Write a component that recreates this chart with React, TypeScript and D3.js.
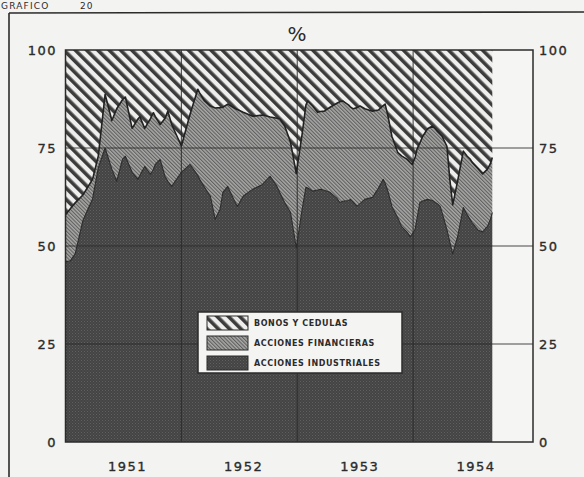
import React from "react";
import * as d3 from "d3";

// months since January 1951 (0 = start of 1951)
const months = [0, 0.5, 1.0, 1.8, 2.8, 3.4, 4.1, 4.8, 5.3, 5.9, 6.2, 6.9, 7.5, 7.7, 8.2, 8.8, 9.1, 9.3, 9.8, 10.3, 10.6, 11.0, 12.0, 12.9, 13.7, 13.9, 14.4, 15.0, 15.5, 16.0, 16.3, 16.8, 17.6, 17.8, 18.4, 19.4, 20.4, 21.2, 21.9, 22.2, 22.7, 23.3, 23.9, 24.5, 24.9, 25.1, 25.6, 26.1, 26.4, 26.8, 27.4, 28.1, 28.4, 28.7, 29.3, 29.5, 29.8, 30.2, 30.5, 31.0, 31.8, 32.4, 32.9, 33.1, 33.4, 33.8, 34.4, 34.8, 35.4, 35.7, 35.9, 36.2, 36.4, 36.7, 37.0, 37.5, 38.0, 38.3, 38.5, 38.8, 39.0, 39.5, 39.8, 40.1, 40.6, 41.2, 41.6, 41.9, 42.1, 42.7, 43.2, 43.7, 44.0, 44.2];

const industriales = [46, 46.2, 48, 56.5, 62, 70, 75, 69.6, 66.5, 72.1, 72.9, 68.8, 67, 68, 70.3, 68.3, 69.5, 70.8, 72.1, 67.8, 66.5, 65.2, 68.8, 70.8, 68, 67, 65, 62.7, 56.8, 59.3, 63.7, 65.2, 61, 60.1, 62.7, 64.5, 65.7, 67.8, 65.2, 63.6, 61.1, 58.6, 49.5, 59.3, 65, 64.8, 64, 64.3, 64.5, 64.2, 63.7, 62.2, 61.1, 61.4, 61.6, 61.9, 61.2, 60.1, 60.8, 61.9, 62.4, 64.7, 67, 66, 63.9, 60.1, 57.3, 55, 53.5, 52.4, 53, 54.2, 57, 61.1, 61.5, 61.9, 61.6, 61.1, 60.8, 60.1, 58.5, 54.2, 51, 48, 52.3, 59.8, 58, 56.8, 56, 54.1, 53.6, 55, 56.8, 58.6];

const financieras = [12, 13.3, 13, 6.5, 5, 3, 13.7, 12.4, 18.5, 15.2, 15.1, 11.2, 15.4, 15, 9.7, 14.2, 14.5, 12.2, 8.9, 14.7, 17.9, 15.8, 6.7, 12.8, 22, 22, 22, 23, 28.4, 26, 21.7, 21, 24, 24.7, 21.4, 18.6, 17.7, 15.1, 17.4, 18.8, 19.5, 17.9, 19, 19.2, 21, 22.2, 21.7, 19.8, 19.8, 20.2, 21.7, 24.2, 25.7, 25.6, 24.4, 23.6, 23.8, 25.2, 24.9, 23.1, 22, 20, 18.8, 20.2, 19.2, 17.9, 16.6, 18, 18.6, 18.9, 17.8, 18.3, 17.7, 15.2, 16.5, 18, 19, 18.8, 18.5, 18.4, 19.5, 21.2, 16, 12.5, 14.2, 14.4, 14.9, 15.4, 15.4, 15.7, 14.8, 14.6, 14.2, 14];

const bonos = [42, 40.5, 39, 37, 33, 27, 11.3, 18, 15, 12.7, 12, 20, 17.6, 17, 20, 17.5, 16, 17, 19, 17.5, 15.6, 19, 24.5, 16.4, 10, 11, 13, 14.3, 14.8, 14.7, 14.6, 13.8, 15, 15.2, 15.9, 16.9, 16.6, 17.1, 17.4, 17.6, 19.4, 23.5, 31.5, 21.5, 14, 13, 14.3, 15.9, 15.7, 15.6, 14.6, 13.6, 13.2, 13, 14, 14.5, 15, 14.7, 14.3, 15, 15.6, 15.3, 14.2, 13.8, 16.9, 22, 26.1, 27, 27.9, 28.7, 29.2, 27.5, 25.3, 23.7, 22, 20.1, 19.4, 20.1, 20.7, 21.5, 22, 24.6, 33, 39.5, 33.5, 25.8, 27.1, 27.8, 28.6, 30.2, 31.6, 30.4, 29, 27.4];

const yTicks = [0, 25, 50, 75, 100];
const gridValues = [25, 50, 75];
const yearLabels = ["1951", "1952", "1953", "1954"];
const yearBoundaries = [12, 24, 36];
const legendLabels = ["BONOS Y CEDULAS", "ACCIONES FINANCIERAS", "ACCIONES INDUSTRIALES"];
const keys = ["ind", "fin", "bon"];

const INK = "#2b2b2b";
const PAPER = "#f3f3f1";

export default function App() {
  const W = 584, H = 477;
  const x = d3.scaleLinear().domain([0, 48]).range([65.5, 529]);
  const y = d3.scaleLinear().domain([0, 100]).range([442, 50]);
  const frameRight = 533;

  const table = months.map((m, i) => ({ m, ind: industriales[i], fin: financieras[i], bon: bonos[i] }));
  const series = d3.stack<any>().keys(keys)(table);

  const area = d3.area<any>()
    .x((d) => x(d.data.m))
    .y0((d) => y(d[0]))
    .y1((d) => y(d[1]));
  const topLine = d3.line<any>()
    .x((d) => x(d.data.m))
    .y((d) => y(d[1]));

  const fills = ["url(#pInd)", "url(#pFin)", "url(#pBon)"];
  const legendFills = ["url(#pBon)", "url(#pFin)", "url(#pInd)"];
  const legendY = d3.scaleBand().domain(legendLabels).range([316, 370]).paddingInner(0.3);

  const yearX = d3.scalePoint().domain(yearLabels).range([x(6) + 4, x(42) + 5]);

  const labelStyle = {
    fontFamily: "DejaVu Sans",
    fontSize: 13,
    letterSpacing: 1.5,
    fill: INK,
    stroke: INK,
    strokeWidth: 0.35,
  } as const;

  return (
    <svg width={W} height={H} style={{ display: "block", position: "absolute", left: 0, top: 0, background: PAPER }}>
      <defs>
        <pattern id="pBon" patternUnits="userSpaceOnUse" width="8" height="8" patternTransform="rotate(-45)">
          <rect width="8" height="8" fill="#eeeeec" />
          <rect width="3.6" height="8" fill="#3c3c3c" />
        </pattern>
        <pattern id="pFin" patternUnits="userSpaceOnUse" width="2.6" height="2.6" patternTransform="rotate(-45)">
          <rect width="2.6" height="2.6" fill="#a9a9a7" />
          <rect width="1.1" height="2.6" fill="#5f5f5f" />
        </pattern>
        <pattern id="pInd" patternUnits="userSpaceOnUse" width="3" height="3">
          <rect width="3" height="3" fill="#444444" />
          <rect width="1" height="1" fill="#606060" />
          <rect x="1.5" y="1.5" width="1" height="1" fill="#575757" />
        </pattern>
      </defs>

      {/* outer frame of the page graphic */}
      <line x1={9} y1={13} x2={W} y2={12} stroke={INK} strokeWidth={1.6} />
      <line x1={9} y1={13} x2={9} y2={H} stroke={INK} strokeWidth={1.6} />
      <text x={1} y={9} fontFamily="DejaVu Sans" fontSize={9} fill={INK} letterSpacing={1.2}>GRAFICO</text>
      <text x={80} y={9} fontFamily="DejaVu Sans" fontSize={9} fill={INK} letterSpacing={1}>20</text>

      <text x={297} y={41} textAnchor="middle" fontFamily="DejaVu Sans" fontSize={20} fill={INK}>%</text>

      {/* plot background */}
      <rect x={x(0)} y={y(100)} width={frameRight - x(0)} height={y(0) - y(100)} fill="#f5f5f3" />

      {/* stacked areas */}
      {series.map((s, i) => (
        <path key={keys[i]} d={area(s) || ""} fill={fills[i]} />
      ))}

      {/* grid lines */}
      {gridValues.map((v) => (
        <line key={"h" + v} x1={x(0)} x2={frameRight} y1={y(v)} y2={y(v)} stroke={INK} strokeWidth={1} opacity={0.85} />
      ))}
      {yearBoundaries.map((m) => (
        <line key={"v" + m} x1={x(m)} x2={x(m)} y1={y(100)} y2={y(0)} stroke={INK} strokeWidth={1.1} opacity={0.85} />
      ))}

      {/* boundary lines */}
      <path d={topLine(series[1]) || ""} fill="none" stroke="#222" strokeWidth={1.6} strokeLinejoin="round" />
      <path d={topLine(series[0]) || ""} fill="none" stroke="#2a2a2a" strokeWidth={1.1} strokeLinejoin="round" />

      {/* plot frame */}
      <rect x={x(0)} y={y(100)} width={frameRight - x(0)} height={y(0) - y(100)} fill="none" stroke={INK} strokeWidth={1.5} />

      {/* y labels */}
      {yTicks.map((v) => (
        <g key={"yl" + v}>
          <text x={57} y={y(v)} dy="0.36em" textAnchor="end" {...labelStyle}>{v}</text>
          <text x={539} y={y(v)} dy="0.36em" textAnchor="start" {...labelStyle}>{v}</text>
        </g>
      ))}

      {/* year labels */}
      {yearLabels.map((yl) => (
        <text key={yl} x={yearX(yl)} y={471} textAnchor="middle" {...labelStyle}>{yl}</text>
      ))}

      {/* legend */}
      <rect x={198} y={312} width={204} height={61} fill="#f4f4f2" stroke={INK} strokeWidth={1.5} />
      {legendLabels.map((lab, i) => (
        <g key={lab}>
          <rect x={207} y={legendY(lab)} width={41} height={legendY.bandwidth()} fill={legendFills[i]} stroke={INK} strokeWidth={1} />
          <text x={254} y={(legendY(lab) || 0) + legendY.bandwidth() / 2} dy="0.36em" fontFamily="DejaVu Sans" fontWeight="bold" fontSize={8} letterSpacing={0.6} fill={INK}>{lab}</text>
        </g>
      ))}
    </svg>
  );
}
